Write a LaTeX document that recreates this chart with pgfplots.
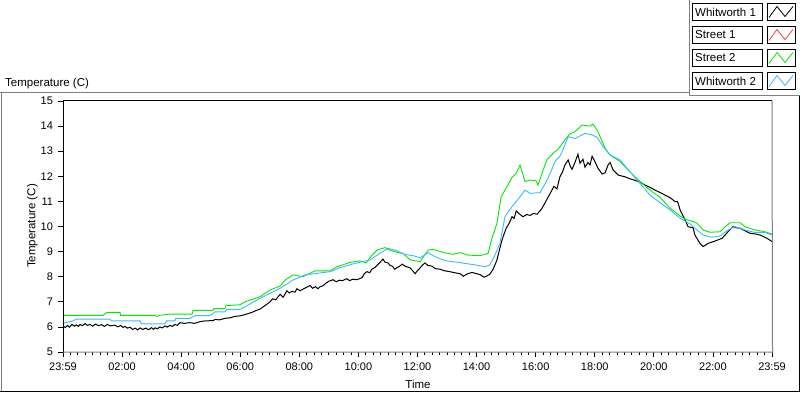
\documentclass[border=0pt]{standalone}
\usepackage{fontspec}
\setmainfont{Liberation Sans}
\usepackage{pgfplots}
\pgfplotsset{compat=1.18}

\definecolor{wgreen}{RGB}{0,235,0}
\definecolor{wblue}{RGB}{60,185,255}
\definecolor{wred}{RGB}{255,60,60}
\definecolor{frm}{RGB}{128,128,128}
\newcommand\tickfont{\fontsize{11bp}{13bp}\selectfont}
\newcommand\labfont{\fontsize{11.5bp}{13bp}\selectfont}

\begin{document}
\begin{tikzpicture}[x=1bp,y=1bp]
\useasboundingbox (0,0) rectangle (800,392);
\fill[white] (0,0) rectangle (800,392);
% panel frame
\draw[frm, line width=1bp] (0,299.5) -- (689.5,299.5);
\draw[frm, line width=1bp] (1.5,299.5) -- (1.5,0.5);
\draw[black, line width=1bp] (0,0.5) -- (800,0.5);
\draw[black, line width=1bp] (799.5,0.5) -- (799.5,296.5);
\draw[frm, line width=1bp] (689.5,392) -- (689.5,296.5) -- (800,296.5);

% legend
\foreach \nm/\col/\t in {Whitworth 1/black/388.5, Street 1/wred/365.5, Street 2/wgreen/342.5, Whitworth 2/wblue/319.5} {
  \draw[black, line width=1bp] (692.5,\t) rectangle (762.5,\t-17);
  \node[anchor=west, inner sep=0pt, font=\labfont] at (695,\t-8.5) {\nm};
  \draw[black, line width=1bp] (767.5,\t) rectangle (795.5,\t-17);
  \draw[\col, line width=0.8bp] (769,\t-14) -- (777,\t-3) -- (785,\t-13) -- (793,\t-3);
}

% titles
\node[anchor=base west, inner sep=0pt, font=\labfont] at (5,306) {Temperature (C)};
\node[rotate=90, inner sep=0pt, font=\labfont] at (32.5,166) {Temperature (C)};
\node[anchor=base, inner sep=0pt, font=\labfont] at (418,3.5) {Time};

\begin{axis}[
  at={(63bp,40bp)}, anchor=south west,
  width=709bp, height=251bp, scale only axis,
  xmin=0, xmax=24, ymin=5, ymax=15,
  xtick={0,2,...,24},
  xticklabels={23:59,02:00,04:00,06:00,08:00,10:00,12:00,14:00,16:00,18:00,20:00,22:00,23:59},
  minor x tick num=7,
  ytick={5,6,...,15},
  tick align=outside, xtick pos=bottom, ytick pos=left,
  major tick length=5bp, minor tick length=3bp,
  every tick/.style={black, line width=0.8bp},
  axis line style={draw=none},
  ticklabel style={font=\tickfont},
  xticklabel style={yshift=-2.5bp},
  yticklabel style={xshift=-1.5bp},
  /pgf/number format/assume math mode=true,
  no marks,
]
% Whitworth 1
\addplot[black, line width=1bp] coordinates {
(0,6.04) (0.08,5.97) (0.15,6.06) (0.22,5.99) (0.3,6.1) (0.38,6.03) (0.45,6.08)
(0.52,6.02) (0.58,6.1) (0.66,6.05) (0.75,6.13) (0.83,6.06) (0.91,6.1) (1.0,6.03)
(1.1,6.11) (1.2,6.05) (1.3,6.09) (1.4,6.02) (1.5,6.1) (1.6,6.04) (1.76,6.07)
(1.85,6.0) (1.95,6.06) (2.03,5.98) (2.10,6.02) (2.18,5.95) (2.27,5.99) (2.35,5.9)
(2.45,5.95) (2.53,5.88) (2.61,5.96) (2.7,5.9) (2.8,5.95) (2.9,5.89) (3.0,5.97)
(3.06,5.9) (3.11,5.96) (3.2,5.93) (3.28,6.0) (3.36,5.96) (3.45,6.04) (3.53,5.99)
(3.62,6.06) (3.7,6.02) (3.79,6.1) (3.87,6.06) (3.96,6.17) (4.1,6.14) (4.3,6.17)
(4.45,6.14) (4.64,6.21) (4.81,6.24) (5.08,6.25) (5.15,6.30) (5.3,6.28) (5.48,6.34)
(5.65,6.36) (5.82,6.42) (5.99,6.44) (6.16,6.49) (6.4,6.58) (6.55,6.66) (6.67,6.71)
(6.85,6.86) (7.01,7.0) (7.1,7.12) (7.2,7.08) (7.35,7.3) (7.45,7.18) (7.58,7.44)
(7.66,7.35) (7.75,7.42) (7.85,7.38) (7.92,7.52) (8.02,7.44) (8.12,7.5) (8.25,7.58)
(8.36,7.65) (8.45,7.54) (8.55,7.6) (8.63,7.52) (8.70,7.6) (8.8,7.64) (8.9,7.74)
(9.0,7.82) (9.14,7.88) (9.25,7.8) (9.35,7.86) (9.45,7.84) (9.61,7.92) (9.7,7.84)
(9.8,7.9) (9.95,7.88) (10.12,7.96) (10.2,8.12) (10.29,8.2) (10.38,8.16) (10.46,8.3)
(10.55,8.36) (10.63,8.45) (10.72,8.56) (10.83,8.7) (10.9,8.58) (11.00,8.55)
(11.07,8.45) (11.15,8.42) (11.23,8.3) (11.31,8.36) (11.4,8.42) (11.48,8.5)
(11.58,8.42) (11.75,8.35) (11.85,8.22) (11.92,8.12) (12.0,8.25) (12.05,8.3)
(12.15,8.44) (12.25,8.55) (12.35,8.45) (12.49,8.42) (12.6,8.32) (12.76,8.3)
(12.9,8.24) (13.10,8.2) (13.25,8.16) (13.44,8.12) (13.55,8.02) (13.7,8.12)
(13.85,8.17) (14.0,8.12) (14.12,8.08) (14.25,7.98) (14.35,8.03) (14.45,8.1)
(14.56,8.3) (14.69,8.67) (14.78,9.1) (14.86,9.46) (14.93,9.7) (15.00,9.93)
(15.10,10.12) (15.20,10.39) (15.27,10.32) (15.34,10.62) (15.45,10.5) (15.57,10.39)
(15.7,10.48) (15.81,10.44) (15.92,10.52) (16.05,10.49) (16.2,10.7) (16.32,10.95)
(16.49,11.32) (16.62,11.6) (16.72,11.5) (16.82,11.98) (16.9,12.15) (16.99,12.45)
(17.10,12.65) (17.17,12.4) (17.23,12.28) (17.33,12.55) (17.43,12.88) (17.50,12.52)
(17.60,12.68) (17.67,12.36) (17.77,12.55) (17.84,12.45) (17.91,12.8) (18.01,12.58)
(18.11,12.32) (18.25,12.09) (18.35,12.14) (18.45,12.45) (18.52,12.55) (18.62,12.25)
(18.79,12.05) (19.02,11.98) (19.2,11.9) (19.36,11.84) (19.55,11.76) (19.70,11.65)
(19.87,11.56) (20.04,11.45) (20.2,11.36) (20.38,11.25) (20.55,11.15) (20.72,10.99)
(20.8,11.0) (20.89,10.66) (21.06,10.26) (21.16,9.99) (21.33,9.95) (21.39,9.66)
(21.56,9.33) (21.67,9.20) (21.84,9.33) (22.07,9.42) (22.31,9.53) (22.51,9.79)
(22.68,9.99) (22.8,9.95) (22.92,9.93) (23.1,9.82) (23.26,9.73) (23.45,9.7)
(23.60,9.66) (23.83,9.53) (24.0,9.40)
};
% Street 2
\addplot[wgreen, line width=0.9bp] coordinates {
(0,6.46) (1.35,6.46) (1.49,6.58) (1.93,6.58) (1.95,6.46) (3.11,6.46) (3.18,6.42)
(3.28,6.46) (3.62,6.51) (4.37,6.51) (4.40,6.66) (5.08,6.66) (5.10,6.73) (5.48,6.73)
(5.52,6.85) (5.99,6.88) (6.16,7.0) (6.33,7.07) (6.67,7.2) (7.01,7.47) (7.35,7.63)
(7.52,7.87) (7.79,8.07) (8.12,8.0) (8.53,8.23) (9.04,8.23) (9.28,8.4) (9.72,8.57)
(10.05,8.63) (10.26,8.55) (10.46,8.86) (10.63,9.06) (10.90,9.16) (11.07,9.06)
(11.31,8.97) (11.51,8.93) (11.75,8.67) (12.09,8.6) (12.36,9.06) (12.53,9.09)
(12.86,8.97) (13.20,8.89) (13.44,8.96) (13.71,8.86) (14.12,8.84) (14.39,8.93)
(14.52,9.53) (14.69,10.13) (14.83,11.19) (15.03,11.59) (15.20,11.96) (15.34,12.12)
(15.47,12.45) (15.64,11.79) (15.81,11.85) (16.01,11.82) (16.08,11.65) (16.25,12.25)
(16.38,12.65) (16.59,12.92) (16.76,13.08) (16.99,13.45) (17.16,13.69) (17.33,13.78)
(17.57,14.04) (17.84,14.0) (17.94,14.08) (18.11,13.78) (18.18,13.58) (18.35,13.12)
(18.52,12.85) (18.86,12.58) (19.19,12.18) (19.53,11.79) (19.87,11.45) (20.21,11.16)
(20.55,10.73) (20.89,10.42) (21.06,10.29) (21.33,10.20) (21.46,10.13) (21.67,9.86)
(21.90,9.77) (22.24,9.79) (22.41,9.99) (22.58,10.15) (22.92,10.15) (23.09,9.99)
(23.43,9.86) (23.76,9.79) (24.0,9.70)
};
% Whitworth 2
\addplot[wblue, line width=0.9bp] coordinates {
(0,6.14) (0.34,6.24) (0.45,6.31) (1.59,6.31) (1.65,6.24) (2.61,6.24) (2.65,6.12)
(3.45,6.12) (3.50,6.24) (3.79,6.24) (3.82,6.34) (4.30,6.34) (4.47,6.45) (4.98,6.45)
(5.15,6.6) (5.48,6.6) (5.55,6.70) (5.99,6.70) (6.16,6.80) (6.67,7.14) (7.35,7.54)
(7.79,7.87) (8.19,8.07) (9.04,8.2) (9.38,8.36) (9.88,8.53) (10.39,8.67) (10.73,8.93)
(11.00,9.13) (11.24,9.06) (11.58,8.89) (11.92,8.82) (12.09,8.75) (12.36,8.96)
(12.59,8.8) (12.93,8.64) (13.44,8.56) (13.95,8.47) (14.29,8.4) (14.45,8.47)
(14.62,8.86) (14.79,9.33) (14.96,10.39) (15.20,10.79) (15.40,11.08) (15.64,11.45)
(15.81,11.32) (16.15,11.35) (16.42,11.92) (16.66,12.6) (16.82,12.8) (16.92,13.05)
(17.10,13.58) (17.33,13.51) (17.67,13.71) (17.91,13.65) (18.08,13.55) (18.28,13.18)
(18.52,12.85) (18.86,12.65) (19.19,12.18) (19.53,11.72) (19.87,11.25) (20.21,10.95)
(20.55,10.66) (20.89,10.33) (21.23,10.10) (21.46,9.86) (21.67,9.66) (21.97,9.57)
(22.24,9.62) (22.51,9.86) (22.75,9.99) (23.09,9.86) (23.43,9.76) (23.76,9.76)
(24.0,9.66)
};
\end{axis}
% plot area border
\draw[black, line width=1bp] (63,40) -- (63,291.5) -- (772,291.5);
\draw[frm, line width=1bp] (772,291.5) -- (772.5,40) -- (63,40);
\end{tikzpicture}
\end{document}
